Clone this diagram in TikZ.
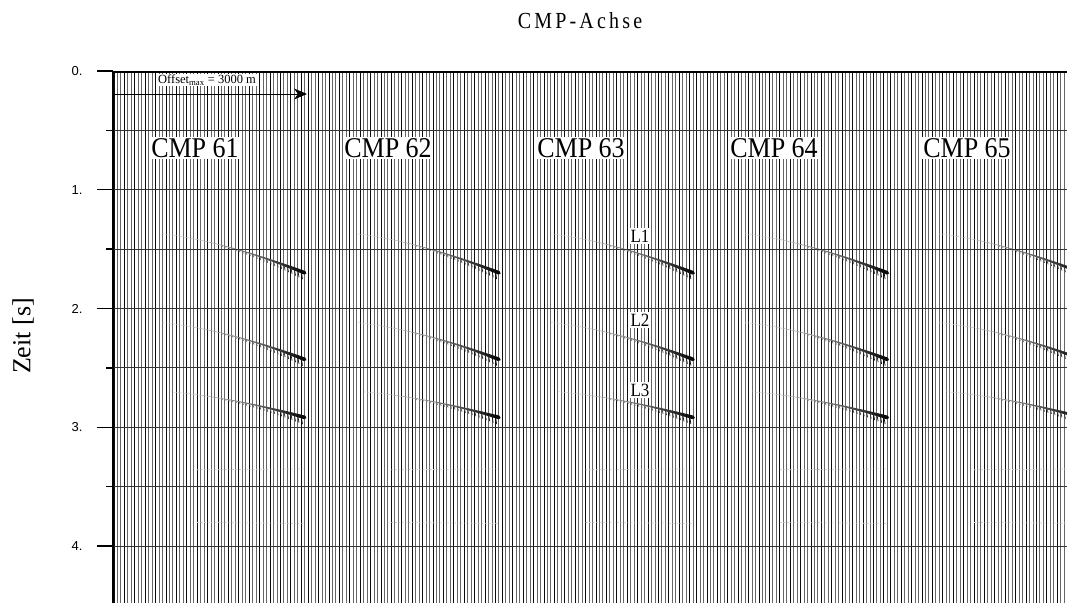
\documentclass[tikz,border=0pt]{standalone}
\usepackage{graphicx}
\usepackage{fontspec}
\setmainfont{Liberation Serif}
\newfontfamily\axisfont{Liberation Sans}
\newfontfamily\titlefont[LetterSpace=16]{Liberation Serif}
\usetikzlibrary{arrows.meta}

\begin{document}
\begin{tikzpicture}[x=1pt,y=-1pt,>={Stealth[length=13pt,width=11pt,inset=4pt]},
                    trace/.style={line width=1pt},
                    grid line/.style={line width=1pt,black!80},
                    frame line/.style={line width=1.8pt},
                    cmp label/.style={fill=white,inner sep=1.5pt,font=\fontsize{26}{26}\selectfont},
                    layer label/.style={fill=white,inner sep=1.5pt,font=\fontsize{17}{17}\selectfont},
                    tick label/.style={anchor=east,font=\axisfont\fontsize{13}{13}\selectfont}]

  \useasboundingbox (0,0) rectangle (1067,603);

  \begin{scope}
    \clip (113,72) rectangle (1067,603);
    \foreach \g in {0,...,4}
      \foreach \i in {0,...,55}{
        \pgfmathsetmacro{\tx}{114+194.2*\g+3.468*\i}
        \pgfmathtruncatemacro{\shade}{mod(\i,3)==0 ? 95 : 60}
        \draw[trace,black!\shade] (\tx,72) -- (\tx,603);
      }
    \foreach \tz/\ta/\is in {1.345/1.08/14, 2.095/1.51/14, 2.68/1.33/16}
      \foreach \g in {0,...,4}
        \foreach \i in {\is,...,54}{
          \pgfmathsetmacro{\fa}{\i/55}
          \pgfmathsetmacro{\fb}{(\i+1)/55}
          \pgfmathsetmacro{\xa}{114+194.2*\g+3.468*\i}
          \pgfmathsetmacro{\xb}{\xa+3.468}
          \pgfmathsetmacro{\ya}{71+118.75*sqrt(\tz*\tz+\ta*\fa*\fa)}
          \pgfmathsetmacro{\yb}{71+118.75*sqrt(\tz*\tz+\ta*\fb*\fb)}
          \pgfmathsetmacro{\lw}{0.3+3.6*\fa^4}
          \pgfmathtruncatemacro{\ev}{15+85*\fa^2}
          \draw[line width=\lw pt,black!\ev,line cap=round] (\xa,\ya) -- (\xb,\yb);
          \ifdim\fa pt>0.55pt
            \draw[line width=0.7pt,black!\ev] (\xa,\ya) -- (\xa+1.2,\ya+8*\fa^3);
          \fi
        }
    \foreach \tz/\ta in {3.36/-0.07, 3.80/0.08}
      \foreach \g in {0,...,4}
        \foreach \i in {24,...,54}{
          \pgfmathsetmacro{\xa}{114+194.2*\g+3.468*\i}
          \pgfmathsetmacro{\ya}{71+118.75*sqrt(\tz*\tz+\ta*(\i/55)^2)}
          \pgfmathsetmacro{\yb}{71+118.75*sqrt(\tz*\tz+\ta*((\i+1)/55)^2)}
          \draw[line width=0.6pt,black!20,dash pattern=on 2pt off 1.5pt] (\xa,\ya) -- (\xa+3.468,\yb);
        }
    \foreach \k in {1,...,8}
      \draw[grid line] (113,{71+59.375*\k}) -- (1067,{71+59.375*\k});
  \end{scope}

  \draw[frame line] (1067,72) -- (113,72) -- (113,603);

  \foreach \s in {0,...,4}{
    \draw[line width=1.4pt] (97,{71+118.75*\s}) -- (113,{71+118.75*\s});
    \node[tick label] (tick\s) at (86,{71+118.75*\s}) {\s.};
  }
  \foreach \s in {0,...,3}
    \draw[line width=1.4pt] (106,{130.4+118.75*\s}) -- (113,{130.4+118.75*\s});

  \coordinate (off0) at (113,94);
  \coordinate (off1) at (307,94);
  \draw[->,line width=0.8pt] (off0) -- (off1);
  \node[fill=white,inner sep=1pt,font=\fontsize{12.5}{12.5}\selectfont] (offset) at (207,80) {Offset\textsubscript{max} = 3000 m};

  \foreach \c [count=\n from 0] in {61,...,65}
    \node[cmp label] (cmp\c) at ({195+193*\n},148) {\scalebox{1}[1.1]{CMP \c}};

  \node[layer label] (L1) at (640,236) {\scalebox{1}[1.1]{L1}};
  \node[layer label] (L2) at (640,320) {\scalebox{1}[1.1]{L2}};
  \node[layer label] (L3) at (640,390) {\scalebox{1}[1.1]{L3}};

  \node[font=\titlefont\fontsize{20}{20}\selectfont] (title) at (580,21) {\scalebox{1}[1.15]{CMP-Achse}};
  \node[rotate=90,font=\fontsize{26}{26}\selectfont] (zeit) at (23,336) {Zeit [s]};
\end{tikzpicture}
\end{document}
